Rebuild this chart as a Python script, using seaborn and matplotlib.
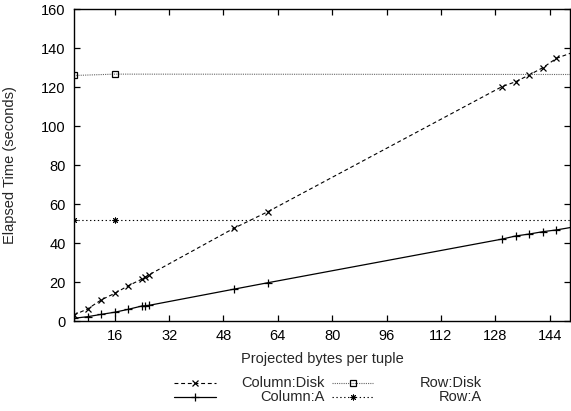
import matplotlib
matplotlib.use("Agg")
import matplotlib.pyplot as plt
from matplotlib.lines import Line2D
import seaborn as sns
import pandas as pd

# ---- data ----
col_x = [4, 8, 12, 16, 20, 24, 25, 26, 51, 61, 130, 134, 138, 142, 146, 152]
col_disk = [3.1, 6.2, 10.8, 14.2, 18.1, 21.5, 22.4, 23.6, 47.5, 56.0,
            120.2, 122.7, 126.2, 129.9, 134.7, 138.5]
col_a = [1.4, 2.2, 3.4, 4.5, 6.0, 7.7, 7.8, 8.0, 16.3, 19.6,
         42.0, 43.6, 44.6, 45.8, 46.7, 48.5]
row_x = [4, 16, 160]
row_disk = [125.9, 126.6, 126.4]
row_a = [51.8, 51.8, 51.8]

x_ticks = [16, 32, 48, 64, 80, 96, 112, 128, 144]
y_ticks = [0, 20, 40, 60, 80, 100, 120, 140, 160]

sns.set_style("ticks")
plt.rcParams["font.family"] = ["Liberation Sans", "DejaVu Sans"]
plt.rcParams["font.size"] = 10.5

W, H = 571, 411
fig = plt.figure(figsize=(W / 100, H / 100), dpi=100)
ax = fig.add_axes([74 / W, 1 - 321 / H, (570 - 74) / W, (321 - 9) / H])

styles = {
    "Column:Disk": dict(color="black", linestyle=(0, (3.5, 2.5)), marker="x",
                        markersize=5, markeredgewidth=0.9, linewidth=0.8,
                        markeredgecolor="black"),
    "Column:A": dict(color="black", linestyle="-", marker="+",
                     markersize=6, markeredgewidth=0.9, linewidth=0.9,
                     markeredgecolor="black"),
    "Row:Disk": dict(color="#666666", linestyle=(0, (1, 1)), marker="s",
                     markersize=4.5, markerfacecolor="none",
                     markeredgecolor="black", markeredgewidth=0.9, linewidth=0.8),
    "Row:A": dict(color="black", linestyle=(0, (1.2, 2.3)), marker=(8, 2, 0),
                  markersize=4.2, markeredgewidth=0.7, linewidth=0.8,
                  markeredgecolor="black"),
}

series = [
    ("Column:Disk", col_x, col_disk),
    ("Column:A", col_x, col_a),
    ("Row:Disk", row_x, row_disk),
    ("Row:A", row_x, row_a),
]
for name, xs, ys in series:
    df = pd.DataFrame({"x": xs, "y": ys})
    sns.lineplot(data=df, x="x", y="y", ax=ax, estimator=None, sort=False,
                 legend=False, **styles[name])

ax.set_xlim(4, 150)
ax.set_ylim(0, 160)
ax.set_xticks(x_ticks)
ax.set_yticks(y_ticks)
ax.tick_params(direction="in", length=4.5, width=0.9, top=True, right=True,
               labelsize=10.5, pad=6, colors="black")
for s in ax.spines.values():
    s.set_visible(True)
    s.set_linewidth(1.0)
    s.set_color("black")
ax.set_xlabel("Projected bytes per tuple", fontsize=10.5, labelpad=6)
ax.set_ylabel("Elapsed Time (seconds)", fontsize=10.5, labelpad=17)

# ---- gnuplot-style legend below the plot ----
cols = [(174, 216, 325), (332, 373, 482)]
rows = [383, 397]
order = [["Column:Disk", "Row:Disk"], ["Column:A", "Row:A"]]
for ri, yrow in enumerate(rows):
    for ci, (x0, x1, xt) in enumerate(cols):
        name = order[ri][ci]
        st = dict(styles[name])
        yy = 1 - yrow / H
        ln = Line2D([x0 / W, (x0 + x1) / 2 / W, x1 / W], [yy, yy, yy],
                    transform=fig.transFigure, markevery=[1], **st)
        fig.add_artist(ln)
        fig.text(xt / W, yy, name, ha="right", va="center", fontsize=10.5)

fig.savefig("out.png", dpi=100)
